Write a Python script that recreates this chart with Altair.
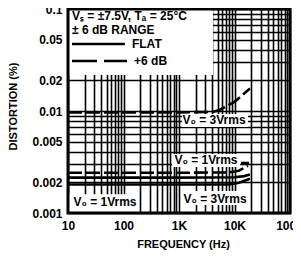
import altair as alt
import pandas as pd

# ---- axis ticks / labels ----
freq_ticks = [10, 100, 1000, 10000, 100000]
freq_labels = ["10", "100", "1K", "10K", "100K"]
dist_ticks = [0.001, 0.002, 0.005, 0.01, 0.02, 0.05, 0.1]
dist_labels = ["0.001", "0.002", "0.005", "0.01", "0.02", "0.05", "0.1"]
mantissas = [1, 2, 3, 4, 5, 6, 7, 8, 9]
x_decades = [10, 100, 1000, 10000]
y_decades = [0.001, 0.01]

x_grid = [m * d for d in x_decades for m in mantissas] + [100000]
y_grid = [round(m * d, 6) for d in y_decades for m in mantissas] + [0.1]

# ---- curves ----
# +6 dB range (dashed)
f_d3 = [10, 100, 1000, 4000, 5500, 7500, 10000, 13000, 19000]
v_d3 = [0.0097, 0.0097, 0.0097, 0.0098, 0.0103, 0.0113, 0.0123, 0.0139, 0.0166]
f_d1 = [10, 100, 1000, 8000, 12000, 17500]
v_d1 = [0.00248, 0.00248, 0.00248, 0.0025, 0.0026, 0.0029]
# FLAT (solid)
f_s1 = [10, 100, 1000, 10000, 15000, 19000]
v_s1 = [0.00222, 0.00222, 0.00222, 0.00224, 0.0023, 0.00238]
f_s3 = [10, 100, 1000, 8000, 12000, 19000]
v_s3 = [0.0019, 0.0019, 0.0019, 0.0019, 0.00198, 0.00217]

# ---- annotations (data space) ----
box_f1 = [10, 1130, 750, 10, 1132]
box_f2 = [4100, 17500, 12600, 190, 19000]
box_v1 = [0.0225, 0.00697, 0.00283, 0.001, 0.0012]
box_v2 = [0.1, 0.00935, 0.00379, 0.00153, 0.00164]

lbl_text = ["V\u2080 = 3Vrms", "V\u2080 = 1Vrms", "V\u2080 = 1Vrms", "V\u2080 = 3Vrms"]
lbl_f = [4275, 3062, 46.4, 4457]
lbl_v = [0.00816, 0.00331, 0.00128, 0.00137]

leg_text = ["V\u209b = \u00b17.5V, T\u2090 = 25\u00b0C", "\u00b1 6 dB RANGE", "FLAT", "+6 dB"]
leg_f = [11.8, 11.8, 142, 155]
leg_v = [0.0854, 0.0622, 0.0454, 0.0309]

legline_flat_f = [11.8, 106]
legline_flat_v = [0.0454, 0.0454]
legline_dash_f = [11.8, 116]
legline_dash_v = [0.0309, 0.0309]

leader_f = [13100, 18200]
leader_v = [0.00309, 0.00309]


def label_expr(ticks, labels):
    expr = "''"
    for t, l in reversed(list(zip(ticks, labels))):
        expr = f"datum.value == {t} ? '{l}' : ({expr})"
    return expr


FONT = "Liberation Sans"

xscale = alt.Scale(type="log", domain=[10, 100000], nice=False)
yscale = alt.Scale(type="log", domain=[0.001, 0.1], nice=False)

xaxis = alt.Axis(values=x_grid, labelExpr=label_expr(freq_ticks, freq_labels),
                 grid=True, gridColor="#000", gridWidth=1.6, gridOpacity=1,
                 ticks=False, domain=False, labelOverlap=False, labelFlush=False,
                 labelFont=FONT, labelFontSize=12, labelFontWeight="bold",
                 labelColor="#000", labelPadding=7,
                 title="FREQUENCY (Hz)", titleFont=FONT, titleFontSize=11,
                 titleFontWeight="bold", titleColor="#000",
                 titleX=115, titleY=31, titleBaseline="middle", titleAlign="center")
yaxis = alt.Axis(values=y_grid, labelExpr=label_expr(dist_ticks, dist_labels),
                 grid=True, gridColor="#000", gridWidth=1.6, gridOpacity=1,
                 ticks=False, domain=False, labelOverlap=False, labelFlush=False,
                 labelFont=FONT, labelFontSize=12, labelFontWeight="bold",
                 labelColor="#000", labelPadding=6,
                 title="DISTORTION (%)", titleFont=FONT, titleFontSize=11,
                 titleFontWeight="bold", titleColor="#000", titleAngle=270,
                 titleX=-55, titleY=97, titleBaseline="middle", titleAlign="center")

boxes = pd.DataFrame({"f1": box_f1, "f2": box_f2, "v1": box_v1, "v2": box_v2})
rects = alt.Chart(boxes).mark_rect(fill="white", strokeWidth=0).encode(
    x=alt.X("f1:Q", scale=xscale, axis=xaxis),
    x2="f2:Q",
    y=alt.Y("v1:Q", scale=yscale, axis=yaxis),
    y2="v2:Q",
)

solid_df = pd.DataFrame({
    "f": f_s1 + f_s3 + legline_flat_f + leader_f,
    "v": v_s1 + v_s3 + legline_flat_v + leader_v,
    "s": ["s1"] * len(f_s1) + ["s3"] * len(f_s3) + ["lf"] * 2 + ["ld"] * 2,
})
dash_df = pd.DataFrame({
    "f": f_d1 + f_d3,
    "v": v_d1 + v_d3,
    "s": ["d1"] * len(f_d1) + ["d3"] * len(f_d3),
})
legdash_df = pd.DataFrame({"f": legline_dash_f, "v": legline_dash_v})

solid = alt.Chart(solid_df).mark_line(color="#000", strokeWidth=2.6).encode(
    x=alt.X("f:Q", scale=xscale), y=alt.Y("v:Q", scale=yscale), detail="s:N")
dashed = alt.Chart(dash_df).mark_line(color="#000", strokeWidth=2.6, strokeDash=[14, 4]).encode(
    x=alt.X("f:Q", scale=xscale), y=alt.Y("v:Q", scale=yscale), detail="s:N")
legdash = alt.Chart(legdash_df).mark_line(color="#000", strokeWidth=2.6, strokeDash=[25, 7]).encode(
    x=alt.X("f:Q", scale=xscale), y=alt.Y("v:Q", scale=yscale))

lbl_df = pd.DataFrame({"t": lbl_text, "f": lbl_f, "v": lbl_v})
labels = alt.Chart(lbl_df).mark_text(font=FONT, fontSize=12, fontWeight="bold",
                                     color="#000", align="center", baseline="middle").encode(
    x=alt.X("f:Q", scale=xscale), y=alt.Y("v:Q", scale=yscale), text="t:N")

leg_df = pd.DataFrame({"t": leg_text, "f": leg_f, "v": leg_v})
legend = alt.Chart(leg_df).mark_text(font=FONT, fontSize=12, fontWeight="bold",
                                     color="#000", align="left", baseline="middle").encode(
    x=alt.X("f:Q", scale=xscale), y=alt.Y("v:Q", scale=yscale), text="t:N")

frame_df = pd.DataFrame({"f1": [10], "f2": [100000], "v1": [0.001], "v2": [0.1]})
frame = alt.Chart(frame_df).mark_rect(fillOpacity=0, stroke="#000", strokeWidth=3).encode(
    x=alt.X("f1:Q", scale=xscale), x2="f2:Q",
    y=alt.Y("v1:Q", scale=yscale), y2="v2:Q")

chart = alt.layer(rects, solid, dashed, legdash, labels, legend, frame).properties(
    width=222, height=204,
    autosize=alt.AutoSizeParams(type="none"),
    padding={"left": 60, "top": 1, "right": 3, "bottom": 37},
).configure_view(stroke=None).configure(background="white")

chart.save("out.html", embed_options={"renderer": "svg", "actions": False})
